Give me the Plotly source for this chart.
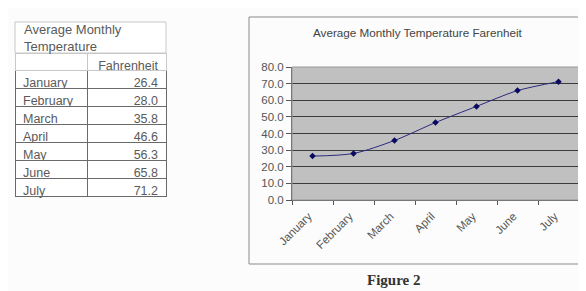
import plotly.graph_objects as go

months = ["January", "February", "March", "April", "May", "June", "July"]
temps = [26.4, 28.0, 35.8, 46.6, 56.3, 65.8, 71.2]
table_title = "Average Monthly<br>Temperature"
unit_header = "Fahrenheit"
chart_title = "Average Monthly Temperature Farenheit"
caption = "Figure 2"

OFF = 8  # page body margin
W, H = 578, 283
def px(x):
    return (x - OFF) / W
def py(y):
    return 1 - (y - OFF) / H

SANS = "Liberation Sans, Arial"
fig = go.Figure()

fig.add_trace(go.Table(
    domain=dict(x=[px(15), px(166)], y=[py(199), py(53)]),
    columnwidth=[72, 79],
    header=dict(values=["", unit_header], align=["left", "right"], height=17,
                fill_color="white", line=dict(color="#c8c8c8", width=1),
                font=dict(family=SANS, size=12.5, color="#5a5a5a")),
    cells=dict(values=[months, [f"{v:.1f}" for v in temps]], align=["left", "right"],
               height=18, fill_color="white", line=dict(color="#6a6a6a", width=1),
               font=dict(family=SANS, size=12.5, color="#5a5a5a")),
))

fig.add_trace(go.Scatter(
    x=months, y=temps, mode="lines+markers",
    line=dict(color="#2a2a80", width=1, shape="spline", smoothing=0.8),
    marker=dict(symbol="diamond", size=5, color="#0a0a60"),
    showlegend=False,
))

fig.update_layout(
    width=W, height=H, margin=dict(l=0, r=0, t=0, b=0),
    paper_bgcolor="#fbfcfb", plot_bgcolor="#c0c0c0",
    showlegend=False,
    xaxis=dict(domain=[px(292), px(579)], range=[-0.5, 6.5], type="category",
               tickangle=-45, tickson="boundaries", ticks="outside", ticklen=4,
               tickcolor="#555", showgrid=False, showline=True, linecolor="#555",
               ticklabelstandoff=4, ticklabelshift=-4,
               tickfont=dict(family=SANS, size=11.5, color="#555"),
               automargin=False, fixedrange=True),
    yaxis=dict(domain=[py(200), py(67)], range=[0, 80], dtick=10, tickformat=".1f",
               ticks="outside", ticklen=5, tickcolor="#555", showline=True, linecolor="#555",
               gridcolor="#3c3c3c", gridwidth=1, zeroline=False,
               tickfont=dict(family=SANS, size=11.5, color="#555"),
               automargin=False, fixedrange=True),
    shapes=[
        dict(type="rect", xref="paper", yref="paper", x0=px(249), x1=px(582), y0=py(264), y1=py(17),
             line=dict(color="#8a8a8a", width=1), fillcolor="rgba(0,0,0,0)", layer="below"),
        dict(type="rect", xref="paper", yref="paper", x0=px(15), x1=px(166), y0=py(53), y1=py(22),
             line=dict(color="#c8c8c8", width=1), fillcolor="white", layer="below"),
        dict(type="rect", xref="paper", yref="paper", x0=px(292), x1=px(579), y0=py(200), y1=py(67),
             line=dict(color="#999", width=1), fillcolor="rgba(0,0,0,0)"),
    ],
    annotations=[
        dict(text=table_title, xref="paper", yref="paper", x=px(22), y=py(38), xanchor="left",
             yanchor="middle", align="left", showarrow=False,
             font=dict(family=SANS, size=13, color="#5a5a5a")),
        dict(text=chart_title, xref="paper", yref="paper", x=px(418), y=py(33), xanchor="center",
             yanchor="middle", showarrow=False,
             font=dict(family=SANS, size=11.7, color="#444")),
        dict(text="<b>" + caption + "</b>", xref="paper", yref="paper", x=px(393), y=py(280),
             xanchor="center", yanchor="middle", showarrow=False,
             font=dict(family="Liberation Serif, Times New Roman", size=15, color="#333")),
    ],
)

fig.write_html("out.html")
